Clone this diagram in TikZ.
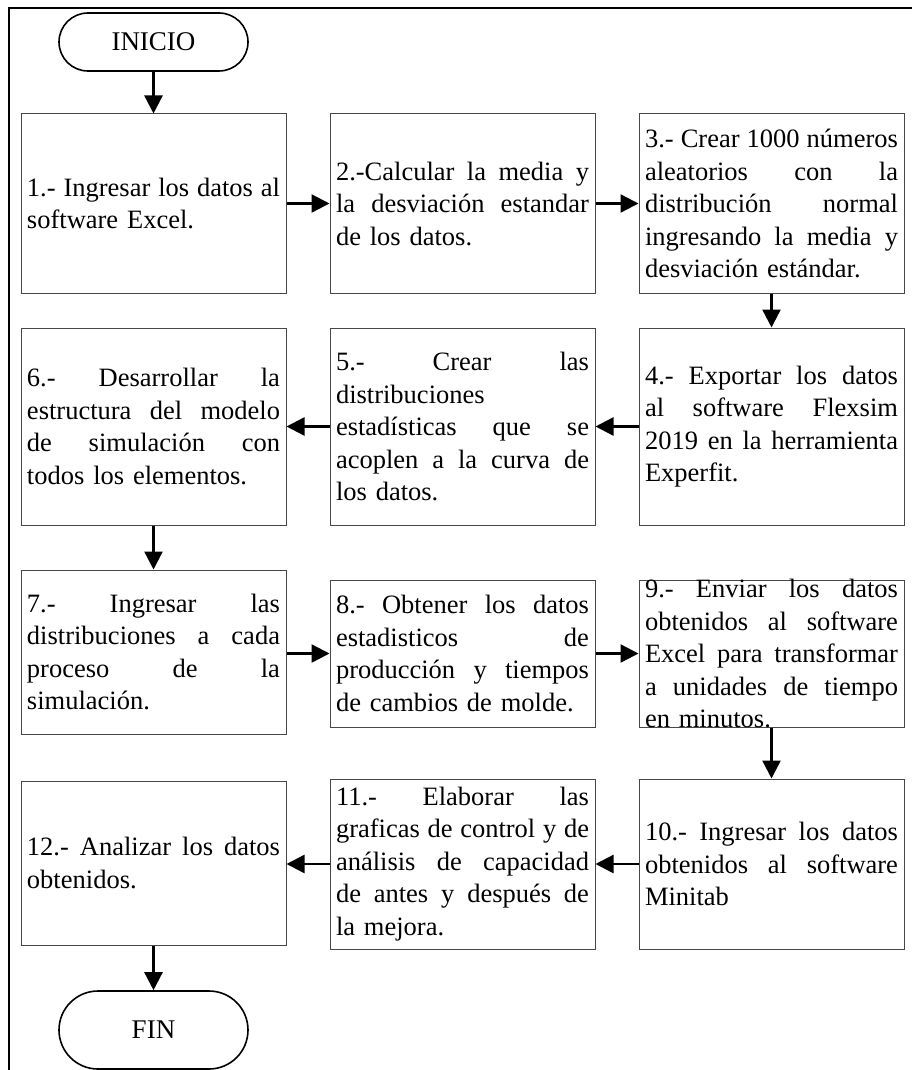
\documentclass[tikz,border=0pt]{standalone}
\usepackage{fontspec}
\setmainfont{Liberation Serif}
\usetikzlibrary{arrows.meta,shapes.misc}
% a fully justified line of a step description: the word gaps share the spare room
\newcommand\justline[1]{\noindent\makebox[253pt][s]{\spaceskip=0.25em plus 1fil\relax #1}}
\hbadness=10000
\tikzset{
  stepbox/.style={draw=black!72, line width=1pt, rectangle, inner sep=0pt},
  steptext/.style={text width=253pt, align=left, inner sep=0pt,
    font=\fontsize{26.5}{32.5}\selectfont},
  terminal/.style={draw=black, line width=1.6pt, rounded rectangle,
    minimum width=189pt, inner sep=0pt, font=\fontsize{27}{32.5}\selectfont},
  flow/.style={draw=black, line width=2.4pt, -{Triangle[length=18pt,width=18pt]}},
}
\begin{document}
\begin{tikzpicture}[x=1pt,y=-1pt]
\useasboundingbox (0,0) rectangle (911,1070);
% page frame
\draw[line width=1.8pt] (9,1075) -- (9,8) -- (915,8);

% terminals
\node[terminal, minimum height=58pt] (ini) at (153.5,42) {INICIO};
\node[terminal, minimum height=78pt] (fin) at (153.5,1030) {FIN};

% process boxes
\node[stepbox, minimum width=265pt, minimum height=179pt] (b1) at (153.5,203.5) {};
\node[stepbox, minimum width=265pt, minimum height=179pt] (b2) at (462.5,203.5) {};
\node[stepbox, minimum width=265pt, minimum height=179pt] (b3) at (771.5,203.5) {};
\node[stepbox, minimum width=265pt, minimum height=197pt] (b4) at (771.5,426.5) {};
\node[stepbox, minimum width=265pt, minimum height=197pt] (b5) at (462.5,426.5) {};
\node[stepbox, minimum width=265pt, minimum height=197pt] (b6) at (153.5,426.5) {};
\node[stepbox, minimum width=265pt, minimum height=164pt] (b7) at (153.5,652) {};
\node[stepbox, minimum width=265pt, minimum height=147pt] (b8) at (462.5,653.5) {};
\node[stepbox, minimum width=265pt, minimum height=147pt] (b9) at (771.5,653.5) {};
\node[stepbox, minimum width=265pt, minimum height=170pt] (b10) at (771.5,864) {};
\node[stepbox, minimum width=265pt, minimum height=170pt] (b11) at (462.5,864) {};
\node[stepbox, minimum width=265pt, minimum height=164pt] (b12) at (153.5,863) {};

% step descriptions
\node[steptext] (t1) at (b1.center) {\justline{1.- Ingresar los datos al}\\software Excel.};
\node[steptext] (t2) at (b2.center) {\justline{2.-Calcular la media y}\\\justline{la desviación estandar}\\de los datos.};
\node[steptext] (t3) at (b3.center) {\justline{3.- Crear 1000 números}\\\justline{aleatorios con la}\\\justline{distribución normal}\\\justline{ingresando la media y}\\desviación estándar.};
\node[steptext] (t4) at (b4.center) {\justline{4.- Exportar los datos}\\\justline{al software Flexsim}\\\justline{2019 en la herramienta}\\Experfit.};
\node[steptext] (t5) at (b5.center) {\justline{5.- Crear las}\\distribuciones\\\justline{estadísticas que se}\\\justline{acoplen a la curva de}\\los datos.};
\node[steptext] (t6) at (b6.center) {\justline{6.- Desarrollar la}\\\justline{estructura del modelo}\\\justline{de simulación con}\\todos los elementos.};
\node[steptext] (t7) at (b7.center) {\justline{7.- Ingresar las}\\\justline{distribuciones a cada}\\\justline{proceso de la}\\simulación.};
\node[steptext] (t8) at (b8.center) {\justline{8.- Obtener los datos}\\\justline{estadisticos de}\\\justline{producción y tiempos}\\de cambios de molde.};
\node[steptext] (t9) at (b9.center) {\justline{9.- Enviar los datos}\\\justline{obtenidos al software}\\\justline{Excel para transformar}\\\justline{a unidades de tiempo}\\en minutos.};
\node[steptext] (t10) at (b10.center) {\justline{10.- Ingresar los datos}\\\justline{obtenidos al software}\\Minitab};
\node[steptext] (t11) at (b11.center) {\justline{11.- Elaborar las}\\\justline{graficas de control y de}\\\justline{análisis de capacidad}\\\justline{de antes y después de}\\la mejora.};
\node[steptext] (t12) at (b12.center) {\justline{12.- Analizar los datos}\\obtenidos.};

% connectors
\draw[flow] (ini.south) -- (b1.north);
\draw[flow] (b1.east) -- (b2.west);
\draw[flow] (b2.east) -- (b3.west);
\draw[flow] (b3.south) -- (b4.north);
\draw[flow] (b4.west) -- (b5.east);
\draw[flow] (b5.west) -- (b6.east);
\draw[flow] (b6.south) -- (b7.north);
\draw[flow] (b7.east |- b8.west) -- (b8.west);
\draw[flow] (b8.east) -- (b9.west);
\draw[flow] (b9.south) -- (b10.north);
\draw[flow] (b10.west) -- (b11.east);
\draw[flow] (b11.west) -- (b11.west -| b12.east);
\draw[flow] (b12.south) -- (fin.north);
\end{tikzpicture}
\end{document}
